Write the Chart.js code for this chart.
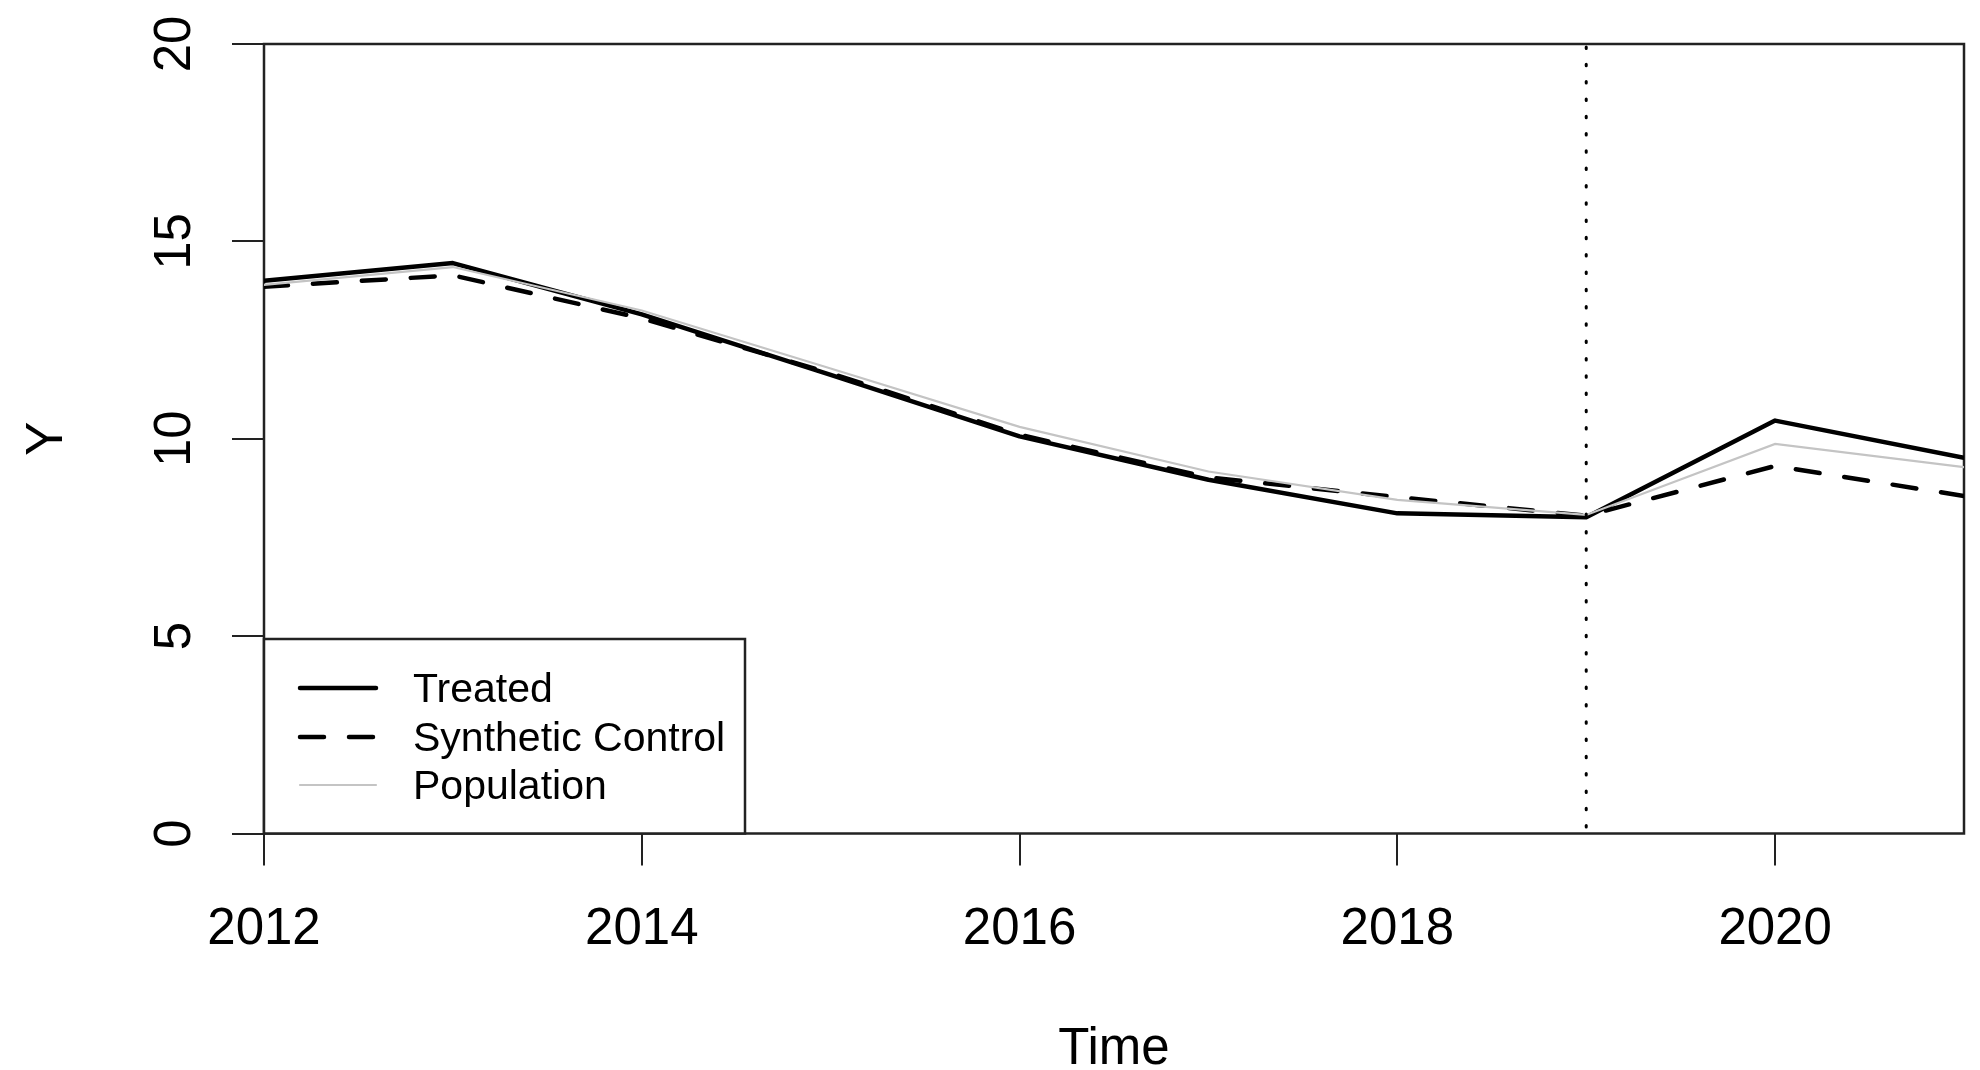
<!DOCTYPE html>
<html>
<head>
<meta charset="utf-8">
<script src="https://cdn.jsdelivr.net/npm/chart.js@4/dist/chart.umd.min.js"></script>
<style>
  html, body { margin: 0; padding: 0; background: #ffffff; }
  #wrap { width: 1980px; height: 1070px; position: relative; }
</style>
</head>
<body>
<div id="wrap"><canvas id="c" width="1980" height="1070"></canvas></div>
<script>
// ---- data ----
const years = [2012, 2013, 2014, 2015, 2016, 2017, 2018, 2019, 2020, 2021];
const treated = [14.0, 14.45, 13.15, 11.62, 10.06, 8.96, 8.11, 8.01, 10.46, 9.52];
const synthetic = [13.85, 14.14, 13.05, 11.66, 10.1, 9.02, 8.52, 8.05, 9.31, 8.55];
const population = [13.9, 14.35, 13.25, 11.78, 10.3, 9.17, 8.45, 8.07, 9.87, 9.28];
const seriesNames = ['Treated', 'Synthetic Control', 'Population'];
const xTickValues = [2012, 2014, 2016, 2018, 2020];
const yTickValues = [0, 5, 10, 15, 20];
const yTickLabels = ['0', '5', '10', '15', '20'];
const treatmentYear = 2019;
const xTitle = 'Time';
const yTitle = 'Y';

const FONT = "'Liberation Sans', Arial, Helvetica, sans-serif";
const AXIS_COLOR = '#222222';

function pts(vals) { return years.map((y, i) => ({ x: y, y: vals[i] })); }

const boxPlugin = {
  id: 'boxPlugin',
  beforeDatasetsDraw(chart) {
    const { ctx, chartArea: a } = chart;
    ctx.save();
    ctx.strokeStyle = AXIS_COLOR;
    ctx.lineWidth = 2.5;
    ctx.strokeRect(a.left, a.top, a.right - a.left, a.bottom - a.top);
    ctx.restore();
  },
  afterDatasetsDraw(chart) {
    const { ctx, chartArea: a, scales } = chart;
    // vertical dotted line at treatment year
    const xp = scales.x.getPixelForValue(treatmentYear);
    ctx.save();
    ctx.strokeStyle = '#000';
    ctx.lineWidth = 3;
    ctx.lineCap = 'round';
    ctx.setLineDash([1.5, 15.8]);
    ctx.beginPath();
    ctx.moveTo(xp, a.top + 3);
    ctx.lineTo(xp, a.bottom);
    ctx.stroke();
    ctx.restore();

    // rotated y tick labels
    ctx.save();
    ctx.fillStyle = '#000';
    ctx.font = '51px ' + FONT;
    ctx.textAlign = 'center';
    ctx.textBaseline = 'alphabetic';
    yTickValues.forEach((v, i) => {
      const yp = scales.y.getPixelForValue(v);
      ctx.save();
      ctx.translate(189.5, yp);
      ctx.rotate(-Math.PI / 2);
      ctx.fillText(yTickLabels[i], 0, 0);
      ctx.restore();
    });
    ctx.restore();

    // legend box
    const lx0 = a.left, lx1 = 745, ly0 = 639, ly1 = a.bottom;
    ctx.save();
    ctx.fillStyle = '#fff';
    ctx.fillRect(lx0, ly0, lx1 - lx0, ly1 - ly0);
    ctx.strokeStyle = AXIS_COLOR;
    ctx.lineWidth = 2.5;
    ctx.strokeRect(lx0, ly0, lx1 - lx0, ly1 - ly0);
    const rows = [688, 737, 785];
    chart.data.datasets.forEach((ds, i) => {
      const yy = rows[i];
      ctx.save();
      ctx.strokeStyle = ds.borderColor;
      ctx.lineWidth = ds.borderWidth;
      ctx.lineCap = ds.borderCapStyle || 'butt';
      ctx.setLineDash(ds.borderDash || []);
      ctx.beginPath();
      ctx.moveTo(300, yy);
      ctx.lineTo(376, yy);
      ctx.stroke();
      ctx.restore();
      ctx.fillStyle = '#000';
      ctx.font = '41px ' + FONT;
      ctx.textAlign = 'left';
      ctx.textBaseline = 'alphabetic';
      ctx.fillText(ds.label, 413, yy + 14);
    });
    ctx.restore();
  }
};

new Chart(document.getElementById('c'), {
  type: 'line',
  data: {
    datasets: [
      {
        label: seriesNames[0],
        data: pts(treated),
        borderColor: '#000000',
        borderWidth: 4.5,
        borderCapStyle: 'round',
        borderJoinStyle: 'round',
        pointRadius: 0,
        tension: 0,
        order: 1
      },
      {
        label: seriesNames[1],
        data: pts(synthetic),
        borderColor: '#000000',
        borderWidth: 4.5,
        borderDash: [24, 25],
        borderCapStyle: 'round',
        borderJoinStyle: 'round',
        pointRadius: 0,
        tension: 0,
        order: 2
      },
      {
        label: seriesNames[2],
        data: pts(population),
        borderColor: '#c4c4c4',
        borderWidth: 2.2,
        borderCapStyle: 'round',
        pointRadius: 0,
        tension: 0,
        order: 0
      }
    ]
  },
  plugins: [boxPlugin],
  options: {
    responsive: false,
    animation: false,
    devicePixelRatio: 1,
    layout: { padding: { left: 0, right: 16, top: 44, bottom: 0 } },
    plugins: { legend: { display: false }, tooltip: { enabled: false } },
    scales: {
      x: {
        type: 'linear',
        min: 2012,
        max: 2021,
        afterBuildTicks(scale) { scale.ticks = xTickValues.map(v => ({ value: v })); },
        afterFit(scale) { scale.height = 1070 - 833.5; },
        border: { display: false },
        grid: { drawOnChartArea: false, drawTicks: true, tickLength: 32, color: AXIS_COLOR, lineWidth: 2 },
        ticks: {
          color: '#000',
          font: { family: FONT, size: 51 },
          padding: 34,
          maxRotation: 0,
          minRotation: 0,
          autoSkip: false,
          callback: v => String(v)
        },
        title: {
          display: true,
          text: xTitle,
          color: '#000',
          font: { family: FONT, size: 51, lineHeight: 0.8 },
          padding: { top: 0, bottom: 0 }
        }
      },
      y: {
        type: 'linear',
        min: 0,
        max: 20,
        afterBuildTicks(scale) { scale.ticks = yTickValues.map(v => ({ value: v })); },
        afterFit(scale) { scale.width = 264; },
        border: { display: false },
        grid: { drawOnChartArea: false, drawTicks: true, tickLength: 32, color: AXIS_COLOR, lineWidth: 2 },
        ticks: { display: false },
        title: {
          display: true,
          text: yTitle,
          color: '#000',
          font: { family: FONT, size: 51 },
          padding: { top: 17, bottom: 0 }
        }
      }
    }
  }
});
</script>
</body>
</html>
